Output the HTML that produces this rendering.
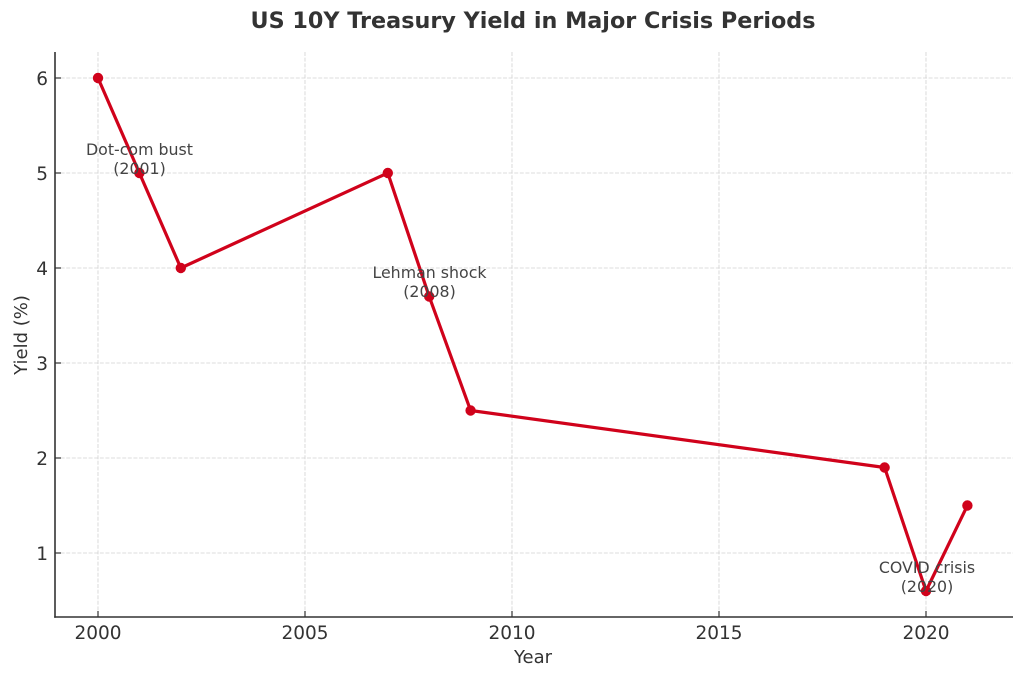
<!DOCTYPE html>
<html>
<head>
<meta charset="utf-8">
<style>
  html, body { margin:0; padding:0; background:#fff; }
  svg { display:block; }
  text { font-family: "DejaVu Sans", "Liberation Sans", sans-serif; fill:#333; }
</style>
</head>
<body>
<svg width="1024" height="679" viewBox="0 0 1024 679" xmlns="http://www.w3.org/2000/svg">
  <rect width="1024" height="679" fill="#fff"/>
  <!-- title -->
  <text x="533" y="28" text-anchor="middle" font-size="22" font-weight="bold" textLength="565" lengthAdjust="spacingAndGlyphs">US 10Y Treasury Yield in Major Crisis Periods</text>

  <!-- grid -->
  <g stroke="#d2d2d2" stroke-width="0.8" stroke-dasharray="4,1.6" fill="none">
    <line x1="98" y1="52" x2="98" y2="617"/>
    <line x1="305" y1="52" x2="305" y2="617"/>
    <line x1="512" y1="52" x2="512" y2="617"/>
    <line x1="719" y1="52" x2="719" y2="617"/>
    <line x1="926" y1="52" x2="926" y2="617"/>
    <line x1="55" y1="78" x2="1013" y2="78"/>
    <line x1="55" y1="173" x2="1013" y2="173"/>
    <line x1="55" y1="268" x2="1013" y2="268"/>
    <line x1="55" y1="363" x2="1013" y2="363"/>
    <line x1="55" y1="458" x2="1013" y2="458"/>
    <line x1="55" y1="553" x2="1013" y2="553"/>
  </g>

  <!-- spines -->
  <g stroke="#333" stroke-width="1.6" fill="none">
    <line x1="55" y1="52" x2="55" y2="617.8"/>
    <line x1="54.2" y1="617" x2="1013" y2="617"/>
  </g>
  <!-- ticks (inward) -->
  <g stroke="#333" stroke-width="1.2">
    <line x1="98" y1="617" x2="98" y2="611"/>
    <line x1="305" y1="617" x2="305" y2="611"/>
    <line x1="512" y1="617" x2="512" y2="611"/>
    <line x1="719" y1="617" x2="719" y2="611"/>
    <line x1="926" y1="617" x2="926" y2="611"/>
    <line x1="55" y1="78" x2="61" y2="78"/>
    <line x1="55" y1="173" x2="61" y2="173"/>
    <line x1="55" y1="268" x2="61" y2="268"/>
    <line x1="55" y1="363" x2="61" y2="363"/>
    <line x1="55" y1="458" x2="61" y2="458"/>
    <line x1="55" y1="553" x2="61" y2="553"/>
  </g>

  <!-- tick labels -->
  <g font-size="18.5" text-anchor="middle">
    <text x="98" y="639">2000</text>
    <text x="305" y="639">2005</text>
    <text x="512" y="639">2010</text>
    <text x="719" y="639">2015</text>
    <text x="926" y="639">2020</text>
  </g>
  <g font-size="18.5" text-anchor="end">
    <text x="48" y="85">6</text>
    <text x="48" y="180">5</text>
    <text x="48" y="275">4</text>
    <text x="48" y="370">3</text>
    <text x="48" y="465">2</text>
    <text x="48" y="560">1</text>
  </g>

  <!-- axis labels -->
  <text x="533" y="663" font-size="18" text-anchor="middle">Year</text>
  <text transform="translate(27,335) rotate(-90)" font-size="18" text-anchor="middle">Yield (%)</text>

  <!-- series -->
  <polyline fill="none" stroke="#d0021b" stroke-width="3.2" stroke-linejoin="round"
    points="98,78 139.4,173 180.8,268 387.8,173 429.2,296.5 470.6,410.5 884.6,467.5 926,591 967.4,505.5"/>
  <g fill="#d0021b">
    <circle cx="98" cy="78" r="5.2"/>
    <circle cx="139.4" cy="173" r="5.2"/>
    <circle cx="180.8" cy="268" r="5.2"/>
    <circle cx="387.8" cy="173" r="5.2"/>
    <circle cx="429.2" cy="296.5" r="5.2"/>
    <circle cx="470.6" cy="410.5" r="5.2"/>
    <circle cx="884.6" cy="467.5" r="5.2"/>
    <circle cx="926" cy="591" r="5.2"/>
    <circle cx="967.4" cy="505.5" r="5.2"/>
  </g>

  <!-- annotations -->
  <g font-size="15.8" text-anchor="middle">
    <text x="139.5" y="155" style="fill:#444">Dot-com bust</text>
    <text x="139.5" y="174" style="fill:#444">(2001)</text>
    <text x="429.5" y="278" style="fill:#444">Lehman shock</text>
    <text x="429.5" y="297" style="fill:#444">(2008)</text>
    <text x="927" y="573" style="fill:#444">COVID crisis</text>
    <text x="927" y="592" style="fill:#444">(2020)</text>
  </g>
</svg>
</body>
</html>
